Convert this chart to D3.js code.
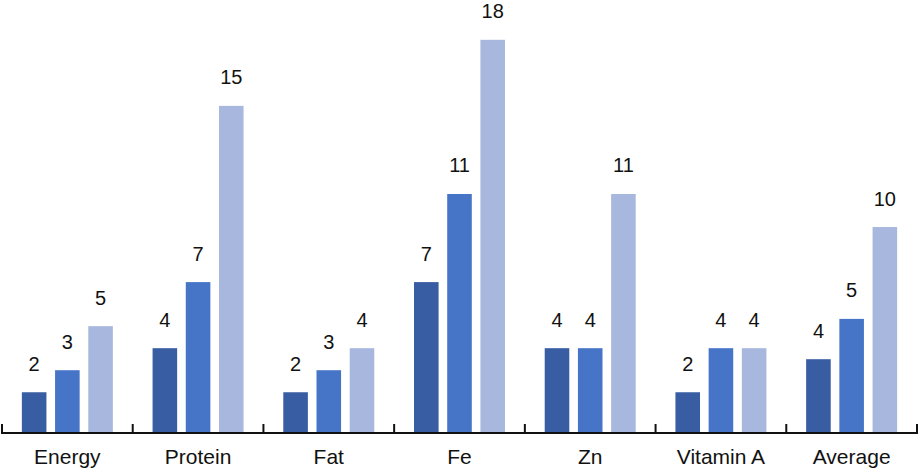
<!DOCTYPE html>
<html><head><meta charset="utf-8">
<script src="https://cdn.jsdelivr.net/npm/d3@7"></script>
<style>body{margin:0;background:#fff}svg{display:block}</style>
</head><body>
<svg id="c" width="919" height="469"></svg>
<script>
const categories = ["Energy","Protein","Fat","Fe","Zn","Vitamin A","Average"];
const series1 = [2,4,2,7,4,2,3.5];
const series2 = [3,7,3,11,4,4,5.33];
const series3 = [5,15,4,18,11,4,9.5];
const labels1 = ["2","4","2","7","4","2","4"];
const labels2 = ["3","7","3","11","4","4","5"];
const labels3 = ["5","15","4","18","11","4","10"];
const colors = ["#385da3","#4674c6","#a8b7dd"];

const svg = d3.select("#c");
const axisY = 433;
const x = d3.scaleBand().domain(categories).range([2,917]).padding(0);
const inner = d3.scaleBand().domain([0,1,2]).range([-45.5,45.5]).paddingInner(0.26);
const y = d3.scaleLinear().domain([0,18]).range([436.3,39.8]);

const data = categories.map((c,i)=>({c, vals:[series1[i],series2[i],series3[i]], labs:[labels1[i],labels2[i],labels3[i]]}));

const g = svg.selectAll("g.grp").data(data).join("g").attr("class","grp")
  .attr("transform", d=>`translate(${x(d.c)+x.bandwidth()/2},0)`);

g.selectAll("rect").data(d=>d.vals.map((v,k)=>({v,k}))).join("rect")
  .attr("x", d=>inner(d.k)).attr("width", inner.bandwidth())
  .attr("y", d=>y(d.v)).attr("height", d=>axisY-y(d.v))
  .attr("fill", d=>colors[d.k]);

g.selectAll("text.lab").data(d=>d.vals.map((v,k)=>({v,k,l:d.labs[k]}))).join("text").attr("class","lab")
  .attr("x", d=>inner(d.k)+inner.bandwidth()/2).attr("y", d=>y(d.v)-21.5)
  .attr("text-anchor","middle")
  .style("font-family","Liberation Sans, Arial, sans-serif").style("font-size","20px").attr("fill","#111")
  .text(d=>d.l);

// axis
svg.append("line").attr("x1",1).attr("x2",918).attr("y1",axisY).attr("y2",axisY)
  .attr("stroke","#111").attr("stroke-width",2);
const ticks = categories.map(c=>x(c)).concat([x.range()[1]]);
svg.selectAll("line.tk").data(ticks).join("line").attr("class","tk")
  .attr("x1",d=>d).attr("x2",d=>d).attr("y1",axisY).attr("y2",axisY-9)
  .attr("stroke","#111").attr("stroke-width",2);
svg.selectAll("text.cat").data(categories).join("text").attr("class","cat")
  .attr("x",d=>x(d)+x.bandwidth()/2).attr("y",464)
  .attr("text-anchor","middle")
  .style("font-family","Liberation Sans, Arial, sans-serif").style("font-size","21px").attr("fill","#111")
  .text(d=>d);
</script>
</body></html>
